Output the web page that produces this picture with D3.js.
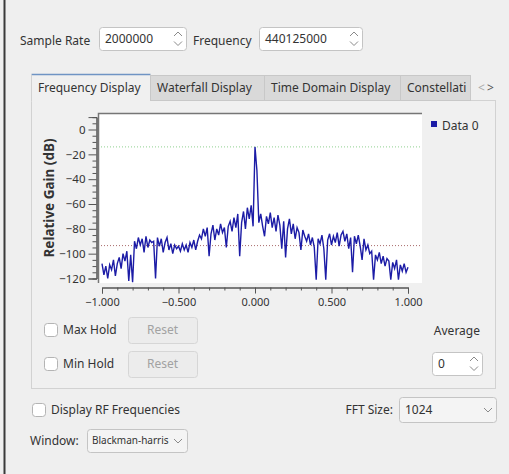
<!DOCTYPE html>
<html>
<head>
<meta charset="utf-8">
<script src="https://cdn.jsdelivr.net/npm/d3@7"></script>
<style>
  html, body { margin: 0; padding: 0; background: #efefef; }
  svg { display: block; font-family: "Noto Sans", "Open Sans", sans-serif; }
</style>
</head>
<body>
<div id="chart"></div>
<script>
// FFT magnitude, 161 bins from -1.0 to 1.0
const gainDb = [
  -108, -117, -110, -120, -109, -113, -105, -118, -108, -103,
  -112, -100, -106, -98, -122, -101, -123, -90, -96, -87,
  -93, -88, -99, -86, -95, -89, -91, -90, -120, -87,
  -94, -88, -99, -91, -87, -97, -92, -100, -93, -96,
  -94, -98, -92, -97, -93, -99, -91, -95, -89, -97,
  -90, -85, -88, -80, -86, -79, -102, -84, -77, -89,
  -80, -85, -76, -83, -79, -95, -78, -74, -82, -71,
  -79, -68, -102, -75, -66, -80, -63, -72, -61, -78,
  -14, -33, -75, -68, -78, -86, -70, -76, -67, -79,
  -71, -82, -69, -77, -96, -74, -103, -80, -72, -84,
  -76, -88, -79, -83, -97, -81, -86, -90, -84, -93,
  -87, -95, -121, -88, -92, -85, -96, -121, -89, -84,
  -93, -86, -91, -83, -94, -85, -82, -90, -84, -96,
  -87, -115, -86, -92, -85, -94, -105, -88, -97, -93,
  -100, -98, -121, -101, -105, -99, -108, -102, -110, -104,
  -106, -121, -107, -112, -105, -121, -109, -114, -108, -115,
  -111
];
const freqDomain = [-1, 1];
const gainDomain = [-120, 10];
const xTicks = [-1, -0.5, 0, 0.5, 1];
const yTicks = [-120, -100, -80, -60, -40, -20, 0];
const markerLevels = [-14, -93.5];   // max marker, noise-floor marker
const tabNames = ['Frequency Display', 'Waterfall Display', 'Time Domain Display', 'Constellati'];
const seriesNames = ['Data 0'];

let freqSink = function(){
    let self = { width: 509, height: 474 };

    let svg = d3.select('#chart').append('svg')
        .attr('width', self.width)
        .attr('height', self.height);

    let chevronUp = function(g, x, y){
        g.append('path').attr('d', `M${x-4},${y+2.5} L${x},${y-1.5} L${x+4},${y+2.5}`)
            .attr('fill', 'none').attr('stroke', '#8a8a8a').attr('stroke-width', 1);
    };
    let chevronDown = function(g, x, y){
        g.append('path').attr('d', `M${x-4},${y-2} L${x},${y+2} L${x+4},${y-2}`)
            .attr('fill', 'none').attr('stroke', '#8a8a8a').attr('stroke-width', 1);
    };
    let label = function(x, y, text, opts){
        opts = opts || {};
        return svg.append('text').attr('x', x).attr('y', y)
            .attr('font-size', opts.size || 12)
            .attr('fill', opts.color || '#333')
            .attr('text-anchor', opts.anchor || 'start')
            .text(text);
    };
    let box = function(x, y, w, h, fill, stroke){
        return svg.append('rect').attr('x', x + 0.5).attr('y', y + 0.5)
            .attr('width', w).attr('height', h).attr('rx', 3)
            .attr('fill', fill).attr('stroke', stroke);
    };
    let spinBox = function(x, y, w, h, text){
        box(x, y, w, h, '#ffffff', '#c4c4c4');
        label(x + 6, y + h / 2 + 4.5, text);
        chevronUp(svg, x + w - 8, y + h / 2 - 5);
        chevronDown(svg, x + w - 8, y + h / 2 + 5);
    };
    let checkBox = function(x, y, text){
        box(x, y, 13, 13, '#ffffff', '#b4b4b4');
        label(x + 19, y + 11, text);
    };

    let createView = function(){
        // window frame edge
        svg.append('rect').attr('x', 3.5).attr('y', 0).attr('width', 2).attr('height', self.height).attr('fill', '#3a3a3a');

        // top row
        label(20, 45, 'Sample Rate');
        spinBox(99, 27, 87, 23, '2000000');
        label(193, 45, 'Frequency');
        spinBox(259, 27, 103, 23, '440125000');

        // tab pane
        svg.append('rect').attr('x', 31.5).attr('y', 100.5).attr('width', 464).attr('height', 288)
            .attr('fill', '#f0f0f0').attr('stroke', '#d2d2d2');

        let tabEdges = [31, 150, 264, 400, 470];
        tabNames.forEach((name, i) => {
            let x0 = tabEdges[i], x1 = tabEdges[i + 1];
            svg.append('rect').attr('x', x0 + 0.5).attr('y', i === 0 ? 74.5 : 75.5)
                .attr('width', x1 - x0).attr('height', i === 0 ? 27 : 25)
                .attr('fill', i === 0 ? '#f0f0f0' : '#d9d9d9')
                .attr('stroke', i === 0 ? 'none' : '#c8c8c8');
            label(x0 + 7, 92, name);
        });
        svg.append('line').attr('x1', 31.5).attr('x2', 150.5).attr('y1', 74.5).attr('y2', 74.5)
            .attr('stroke', '#6f94c4').attr('stroke-width', 1.5);
        svg.append('line').attr('x1', 31.5).attr('x2', 31.5).attr('y1', 74.5).attr('y2', 101)
            .attr('stroke', '#d2d2d2');
        svg.append('line').attr('x1', 150.5).attr('x2', 150.5).attr('y1', 74.5).attr('y2', 101)
            .attr('stroke', '#c8c8c8');
        label(478, 92, '<', { color: '#aaa', size: 12 });
        label(487, 92, '>', { color: '#555', size: 12 });

        // plot
        let x = d3.scaleLinear().domain(freqDomain).range([102, 408]);
        let y = d3.scaleLinear().domain(gainDomain).range([278.5, 117.1]);
        let canvas = { x0: 98, x1: 422, y0: 113, y1: 283 };

        svg.append('rect').attr('x', canvas.x0).attr('y', canvas.y0)
            .attr('width', canvas.x1 - canvas.x0).attr('height', canvas.y1 - canvas.y0)
            .attr('fill', '#ffffff');
        svg.append('clipPath').attr('id', 'canvasClip').append('rect')
            .attr('x', canvas.x0).attr('y', canvas.y0)
            .attr('width', canvas.x1 - canvas.x0).attr('height', canvas.y1 - canvas.y0);

        let markerColors = ['#8fd08f', '#a86a6a'];
        svg.append('g').selectAll('line').data(markerLevels).enter().append('line')
            .attr('x1', canvas.x0).attr('x2', canvas.x1)
            .attr('y1', d => y(d)).attr('y2', d => y(d))
            .attr('stroke', (d, i) => markerColors[i])
            .attr('stroke-dasharray', '1,2');

        let line = d3.line()
            .x((d, i) => x(freqDomain[0] + (freqDomain[1] - freqDomain[0]) * i / (gainDb.length - 1)))
            .y(d => y(d));
        svg.append('path').datum(gainDb)
            .attr('clip-path', 'url(#canvasClip)')
            .attr('d', line)
            .attr('fill', 'none')
            .attr('stroke', '#1c1ca6')
            .attr('stroke-width', 1.4)
            .attr('stroke-linejoin', 'miter');

        // canvas frame (sunken)
        svg.append('path').attr('d', `M${canvas.x0 + 0.5},${canvas.y1} V${canvas.y0 + 0.5} H${canvas.x1}`)
            .attr('fill', 'none').attr('stroke', '#767676').attr('stroke-width', 1.5);

        // y axis
        let yMinor = d3.range(-120, 11, 5).filter(v => v % 20 !== 0);
        let yAxisG = svg.append('g').attr('transform', 'translate(96.5,0)');
        yAxisG.call(d3.axisLeft(y).tickValues(yTicks).tickSize(8).tickPadding(3).tickFormat(d3.format('d')));
        yAxisG.append('g').call(d3.axisLeft(y).tickValues(yMinor).tickSize(4).tickFormat(''));
        yAxisG.selectAll('.domain').attr('stroke', '#555');
        yAxisG.selectAll('.tick line').attr('stroke', '#555');
        yAxisG.selectAll('text').attr('font-size', 11.5).attr('fill', '#333')
            .attr('font-family', '"Noto Sans", sans-serif');

        // x axis
        let xMinor = d3.range(-10, 11).map(v => v / 10).filter(v => Math.abs(v * 2 - Math.round(v * 2)) > 1e-6);
        let xAxisG = svg.append('g').attr('transform', 'translate(0,287.5)');
        xAxisG.call(d3.axisBottom(x).tickValues(xTicks).tickSize(6).tickPadding(5).tickFormat(d3.format('.3f')));
        xAxisG.append('g').call(d3.axisBottom(x).tickValues(xMinor).tickSize(3).tickFormat(''));
        xAxisG.selectAll('.domain').attr('stroke', '#555');
        xAxisG.selectAll('.tick line').attr('stroke', '#555');
        xAxisG.selectAll('text').attr('font-size', 11).attr('fill', '#333')
            .attr('font-family', '"Noto Sans", sans-serif');

        svg.append('text')
            .attr('transform', 'translate(54,198) rotate(-90)')
            .attr('text-anchor', 'middle')
            .attr('font-size', 13.5).attr('font-weight', 'bold').attr('fill', '#333')
            .text('Relative Gain (dB)');

        // legend
        seriesNames.forEach((name, i) => {
            svg.append('rect').attr('x', 431).attr('y', 121 + i * 16).attr('width', 6).attr('height', 6)
                .attr('fill', '#1c1ca6');
            label(442, 130 + i * 16, name);
        });

        // hold controls
        checkBox(44, 323, 'Max Hold');
        box(128, 317, 69, 26, '#ececec', '#d6d6d6');
        label(162.5, 334, 'Reset', { anchor: 'middle', color: '#a2a2a2' });
        checkBox(44, 357, 'Min Hold');
        box(128, 351, 69, 26, '#ececec', '#d6d6d6');
        label(162.5, 368, 'Reset', { anchor: 'middle', color: '#a2a2a2' });
        label(480, 335, 'Average', { anchor: 'end' });
        spinBox(432, 352, 50, 23, '0');

        // bottom row
        checkBox(32, 403, 'Display RF Frequencies');
        label(393, 414, 'FFT Size:', { anchor: 'end' });
        box(399, 397, 97, 25, '#f4f4f4', '#c4c4c4');
        label(405, 414, '1024');
        chevronDown(svg, 488, 410);
        label(30, 445, 'Window:');
        box(87, 429, 100, 23, '#f4f4f4', '#c4c4c4');
        label(92, 444, 'Blackman-harris', { size: 10 });
        chevronDown(svg, 178, 441);
    };

    return {
        createView
    };
};

freqSink().createView();
</script>
</body>
</html>
